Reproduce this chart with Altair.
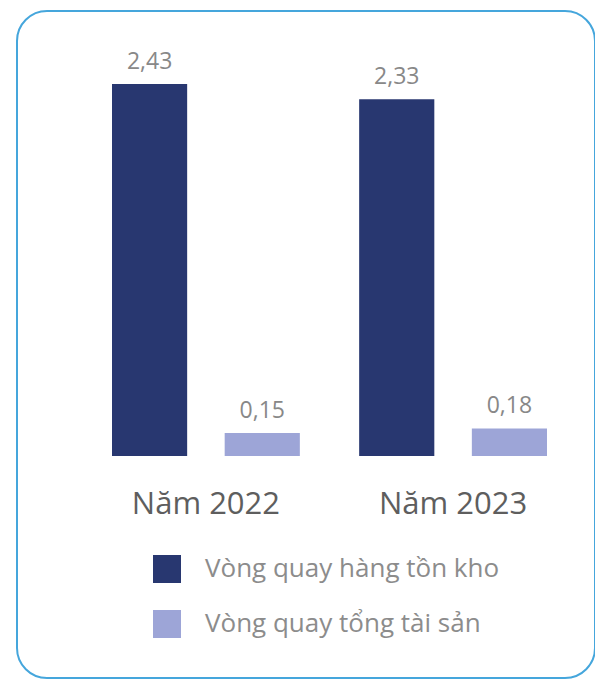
import altair as alt
import pandas as pd

years = ["Năm 2022", "Năm 2023"]
series = ["Vòng quay hàng tồn kho", "Vòng quay tổng tài sản"]
inventory_turnover = [2.43, 2.33]
asset_turnover = [0.15, 0.18]
colors = ["#283770", "#9da5d7"]

rows = []
for i, y in enumerate(years):
    for s, vals in zip(series, [inventory_turnover, asset_turnover]):
        v = vals[i]
        rows.append({"year": y, "series": s, "value": v,
                     "label": f"{v:.2f}".replace(".", ",")})
df = pd.DataFrame(rows)
df_years = pd.DataFrame({"year": years})

FONT = "Open Sans"

x_enc = alt.X("year:N", sort=years, axis=None,
              scale=alt.Scale(range=[95, 530], paddingInner=0.24, paddingOuter=0))
xo_enc = alt.XOffset("series:N", sort=series,
                     scale=alt.Scale(paddingInner=0.333, paddingOuter=0))
y_scale = alt.Scale(domain=[0, 2.6], range=[445, 47])

bars = alt.Chart(df).mark_bar().encode(
    x=x_enc,
    xOffset=xo_enc,
    y=alt.Y("value:Q", scale=y_scale, axis=None),
    color=alt.Color(
        "series:N",
        scale=alt.Scale(domain=series, range=colors),
        legend=alt.Legend(
            title=None, orient="none", legendX=136, legendY=544,
            symbolType="square", symbolSize=784, symbolStrokeWidth=0,
            symbolOpacity=1, labelFont=FONT, labelFontSize=26,
            labelColor="#8c8c8c", labelOffset=24, rowPadding=27,
            labelLimit=450,
        ),
    ),
)

value_text = alt.Chart(df).mark_text(
    font=FONT, fontSize=23, color="#888888", baseline="alphabetic", dy=-15
).encode(
    x=x_enc,
    xOffset=xo_enc,
    y=alt.Y("value:Q", scale=y_scale, axis=None),
    text="label:N",
)

year_text = alt.Chart(df_years).mark_text(
    font=FONT, fontSize=31, color="#5e5e5e", baseline="alphabetic", dy=58
).encode(
    x=x_enc,
    y=alt.datum(0),
    text="year:N",
)

chart = alt.layer(bars, value_text, year_text).properties(
    width=578,
    height=667,
    padding={"left": 9, "top": 3, "right": 0, "bottom": 2},
    autosize=alt.AutoSizeParams(type="none"),
).configure_view(
    stroke="#45a6dc", strokeWidth=2, cornerRadius=30, fill="white"
)

chart.save("out.html", embed_options={"renderer": "svg", "actions": False})
